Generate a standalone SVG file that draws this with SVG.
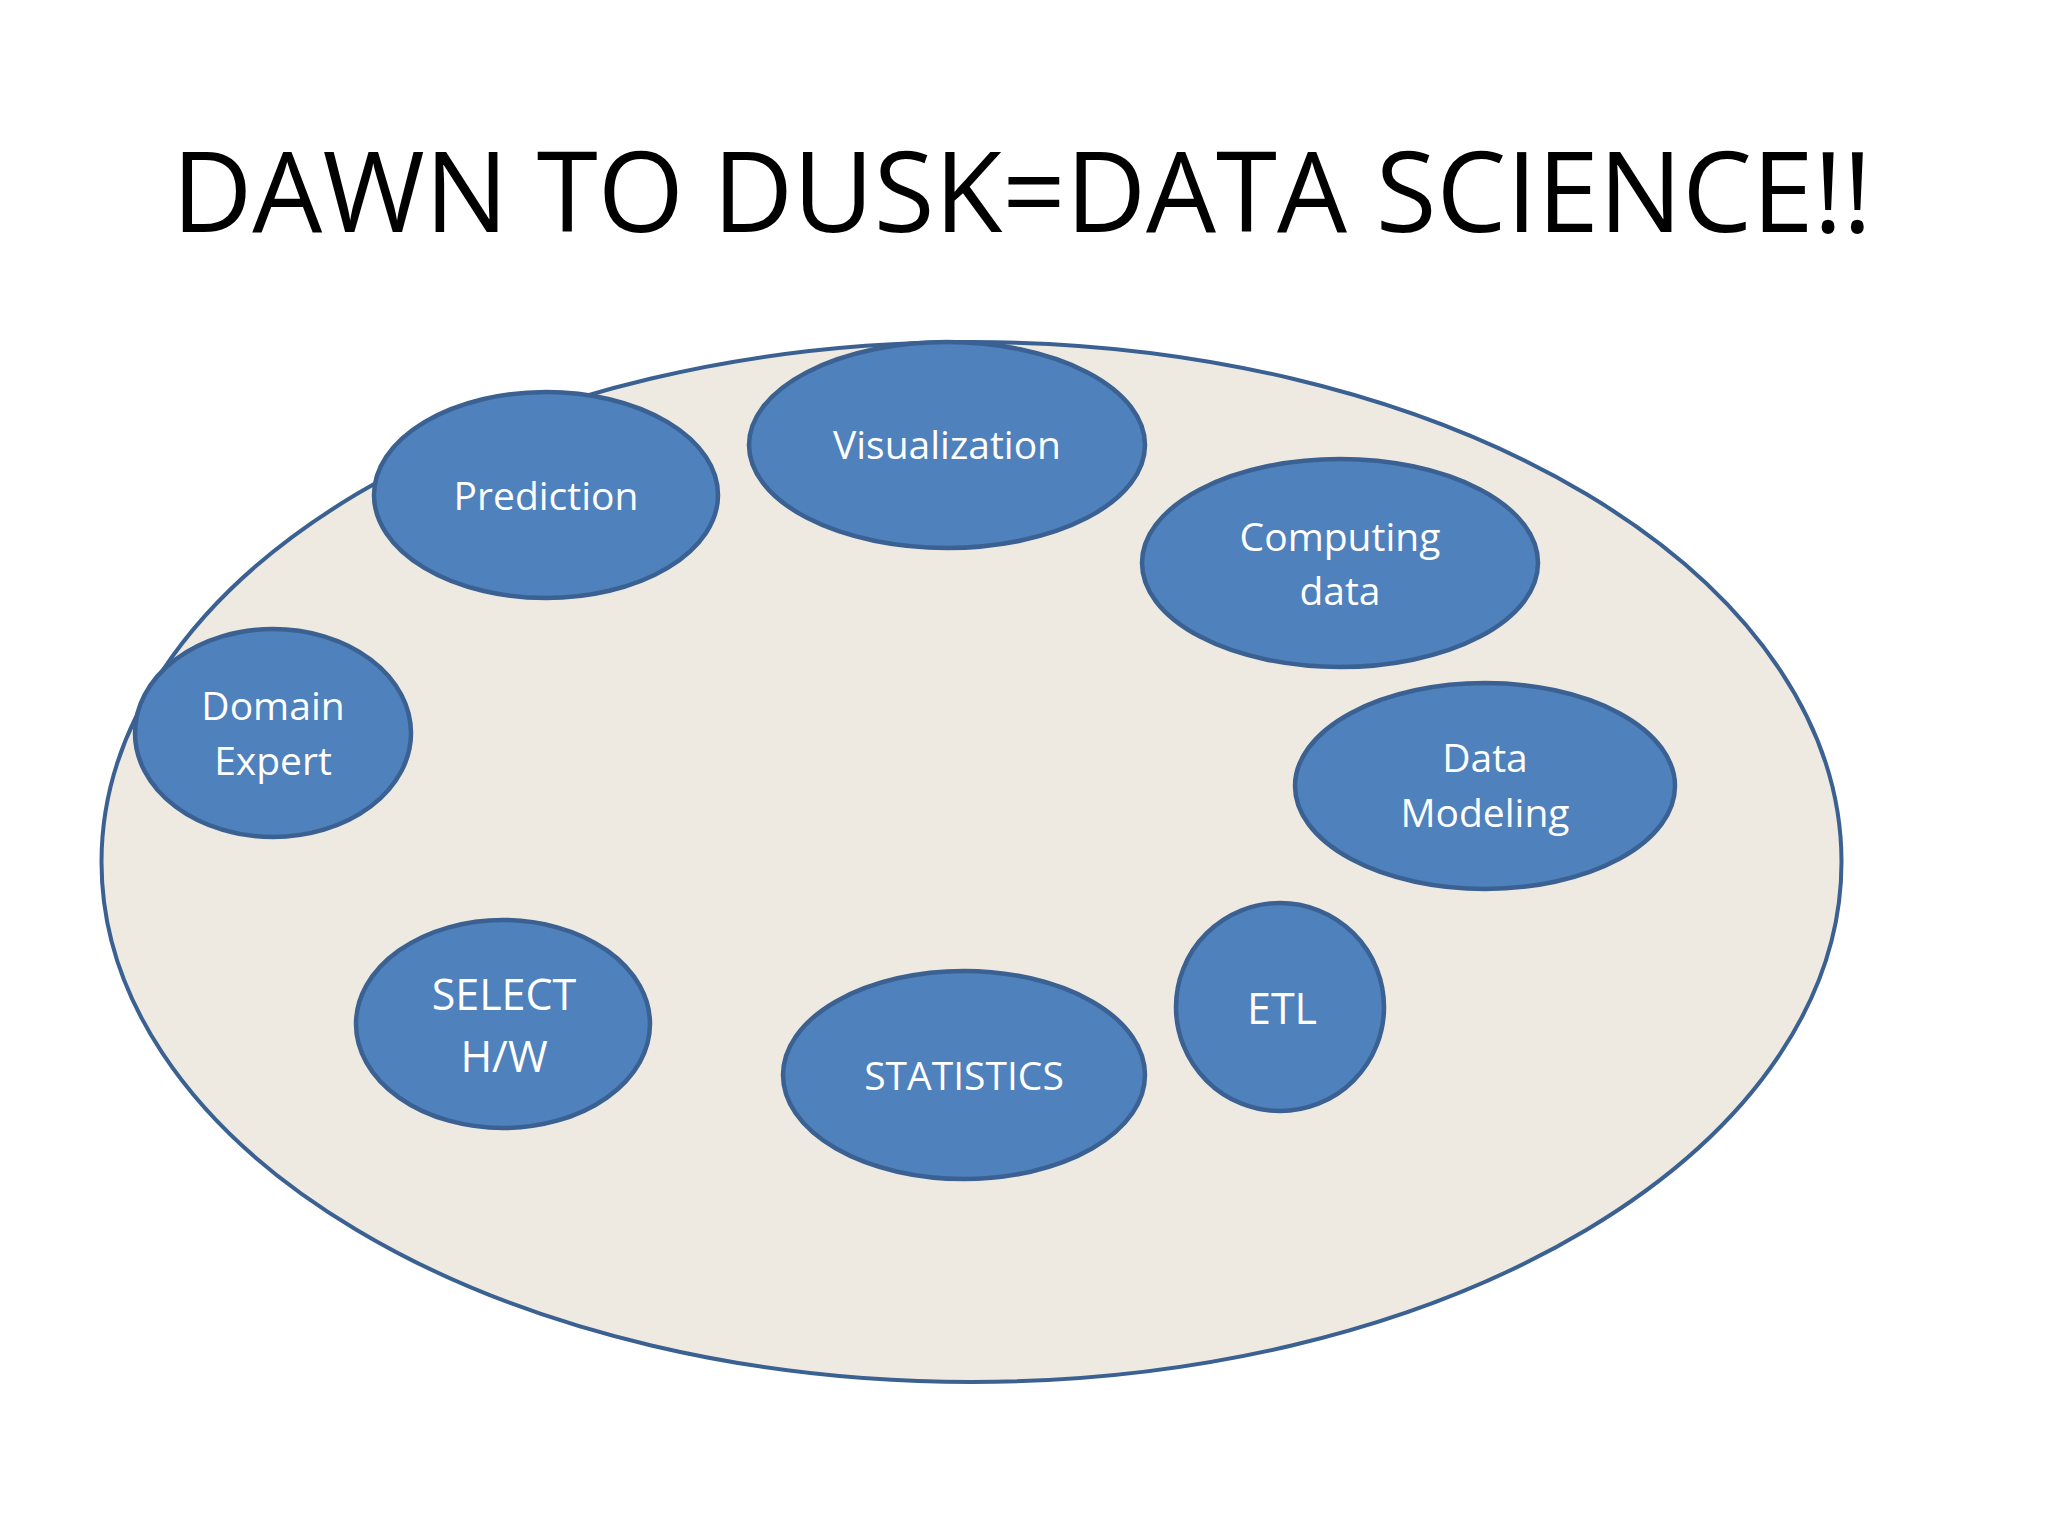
<svg xmlns="http://www.w3.org/2000/svg" width="2048" height="1536" viewBox="0 0 2048 1536">
<style>
.node{fill:#4F81BD;stroke:#3A6192;stroke-width:4.5}
.lbl{font-family:"Open Sans","Noto Sans","DejaVu Sans",sans-serif;font-size:39px;fill:#FFFFFF;text-anchor:middle}
.big{font-size:43px}
.title{font-family:"Open Sans","Noto Sans","DejaVu Sans",sans-serif;font-size:112px;fill:#000000}
</style>
<rect x="0" y="0" width="2048" height="1536" fill="#FFFFFF"/>
<text class="title" x="172" y="232" textLength="1700" lengthAdjust="spacingAndGlyphs">DAWN TO DUSK=DATA SCIENCE!!</text>
<g id="container">
<ellipse cx="971.5" cy="862" rx="870" ry="520" fill="#EEEAE1" stroke="#3A6192" stroke-width="4"/>
</g>
<g id="connectors"/>
<g id="prediction">
<ellipse class="node" cx="546" cy="495" rx="172" ry="103"/>
<text class="lbl" x="546" y="510">Prediction</text>
</g>
<g id="visualization">
<ellipse class="node" cx="947" cy="445" rx="198" ry="103"/>
<text class="lbl" x="947" y="459">Visualization</text>
</g>
<g id="computing-data">
<ellipse class="node" cx="1340" cy="563" rx="198" ry="104"/>
<text class="lbl" x="1340" y="551">Computing</text>
<text class="lbl" x="1340" y="605">data</text>
</g>
<g id="domain-expert">
<ellipse class="node" cx="273" cy="733" rx="138" ry="104"/>
<text class="lbl" x="273" y="720">Domain</text>
<text class="lbl" x="273" y="775">Expert</text>
</g>
<g id="data-modeling">
<ellipse class="node" cx="1485" cy="786" rx="190" ry="103"/>
<text class="lbl" x="1485" y="772">Data</text>
<text class="lbl" x="1485" y="827">Modeling</text>
</g>
<g id="select-hw">
<ellipse class="node" cx="503" cy="1024" rx="147" ry="104"/>
<text class="lbl big" x="504" y="1010">SELECT</text>
<text class="lbl big" x="504" y="1072">H/W</text>
</g>
<g id="statistics">
<ellipse class="node" cx="964" cy="1075" rx="181" ry="104"/>
<text class="lbl" x="964" y="1090">STATISTICS</text>
</g>
<g id="etl">
<ellipse class="node" cx="1280" cy="1007" rx="104" ry="104"/>
<text class="lbl big" x="1282" y="1024">ETL</text>
</g>
</svg>
